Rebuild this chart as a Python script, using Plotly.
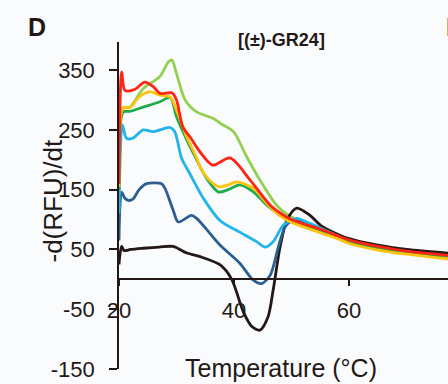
import plotly.graph_objects as go

# ---- data ----
black_t = [20.0, 20.45, 20.9, 22.0, 24.2, 27.0, 29.4, 31.8, 34.1, 37.6, 39.6, 41.6, 43.1, 44.5, 45.9, 46.8, 48.0, 49.2, 50.9, 53.2, 55.1, 57.9, 60.0, 65.0, 70.0, 77.2]
black_v = [25, 55, 48, 50, 52, 54, 55, 44, 38, 24, 0, -54, -79, -85, -63, -18, 54, 99, 119, 107, 90, 76, 68, 57, 50, 44]

dblue_t = [20.0, 20.45, 21.0, 21.6, 22.4, 23.5, 24.8, 27.4, 28.0, 29.4, 30.3, 32.6, 33.5, 35.8, 37.6, 41.0, 43.3, 44.8, 46.3, 47.7, 48.9, 50.3, 52.3, 55.0, 58.0, 60.0, 65.0, 70.0, 77.2]
dblue_v = [65, 146, 136, 132, 134, 150, 160, 160, 152, 116, 96, 107, 102, 77, 57, 27, -1, -7, 7, 54, 88, 99, 96, 84, 72, 64, 53, 45, 38]

lblue_t = [20.0, 20.6, 21.3, 22.4, 24.2, 25.9, 28.9, 29.7, 30.9, 32.3, 34.7, 37.6, 41.0, 43.9, 45.4, 46.8, 48.6, 50.9, 52.6, 55.0, 58.0, 60.0, 65.0, 70.0, 77.2]
lblue_v = [110, 258, 236, 236, 250, 247, 254, 247, 202, 177, 135, 98, 79, 63, 54, 63, 91, 102, 96, 86, 73, 64, 53, 45, 37]

green_t = [20.0, 20.75, 21.9, 24.2, 27.1, 28.9, 30.0, 31.8, 33.5, 34.1, 35.5, 37.3, 39.0, 41.0, 43.4, 45.7, 48.0, 50.0, 52.0, 55.0, 58.0, 60.0, 65.0, 70.0, 77.2]
green_v = [150, 280, 281, 288, 297, 304, 272, 233, 200, 188, 165, 146, 150, 158, 146, 124, 108, 98, 92, 82, 70, 63, 52, 44, 37]

yellow_t = [20.0, 20.75, 21.9, 23.5, 25.4, 27.1, 28.9, 30.0, 31.8, 33.5, 34.1, 35.5, 37.3, 39.0, 40.4, 43.4, 45.7, 48.0, 50.0, 52.0, 55.0, 58.0, 60.0, 65.0, 70.0, 77.2]
yellow_v = [155, 287, 287, 305, 314, 308, 305, 283, 238, 203, 188, 168, 155, 158, 163, 152, 127, 106, 95, 88, 78, 68, 60, 49, 42, 34]

red_t = [20.0, 20.47, 21.04, 22.8, 24.5, 26.0, 27.1, 29.2, 30.0, 31.1, 32.5, 34.1, 36.3, 39.3, 42.8, 46.3, 48.5, 50.0, 52.0, 55.0, 58.0, 60.0, 65.0, 70.0, 77.2]
red_v = [160, 347, 316, 318, 330, 322, 311, 312, 300, 255, 236, 213, 191, 203, 166, 124, 108, 100, 93, 84, 73, 66, 55, 47, 40]

lgreen_t = [20.0, 20.75, 21.9, 24.2, 27.1, 28.6, 29.2, 30.0, 31.5, 33.5, 36.4, 37.6, 39.9, 42.2, 44.5, 47.4, 49.5, 52.0, 55.0, 58.0, 60.0, 65.0, 70.0, 77.2]
lgreen_v = [150, 287, 288, 319, 339, 364, 367, 344, 300, 280, 269, 261, 247, 205, 166, 124, 107, 96, 86, 74, 67, 56, 48, 41]

x_ticks = [20, 40, 60]
y_ticks = [-150, -50, 50, 150, 250, 350]

# ---- figure ----
AX = "#231815"
FONT = "Liberation Sans, Arial, sans-serif"
W, H = 448, 384
ML, MR, MT, MB = 119, 0, 42, 15
PW, PH = W - ML - MR, H - MT - MB
Y0, Y1 = -150, 397
X0, X1 = 20, 77.2

def px(xp):
    return (xp - ML) / PW

def py(yp):
    return (H - MB - yp) / PH

series = [
    (lgreen_t, lgreen_v, "#92d050"),
    (black_t, black_v, "#231815"),
    (dblue_t, dblue_v, "#2c5f91"),
    (lblue_t, lblue_v, "#22b4ea"),
    (green_t, green_v, "#1eab4b"),
    (yellow_t, yellow_v, "#ffc20e"),
    (red_t, red_v, "#ff2414"),
]

fig = go.Figure()
for t, v, c in series:
    fig.add_trace(go.Scatter(x=t, y=v, mode="lines",
                             line=dict(color=c, width=2.8, shape="spline", smoothing=0.8),
                             showlegend=False, hoverinfo="skip"))

fig.update_layout(
    width=W, height=H,
    margin=dict(l=ML, r=MR, t=MT, b=MB, pad=0),
    paper_bgcolor="#fafbfd", plot_bgcolor="#fafbfd",
    font=dict(family=FONT, color=AX, size=22),
    xaxis=dict(range=[X0, X1], tickvals=x_ticks, ticktext=[str(v) for v in x_ticks],
               ticks="outside", ticklen=6, tickwidth=1.5,
               tickcolor=AX, showline=True, linecolor=AX, linewidth=1.5, showgrid=False,
               zeroline=False, anchor="free", position=(0 - Y0) / (Y1 - Y0),
               tickfont=dict(size=22, color=AX), ticklabelstandoff=6),
    yaxis=dict(range=[Y0, Y1], tickvals=y_ticks, ticktext=[str(v) for v in y_ticks],
               ticks="outside", ticklen=8, tickwidth=1.5,
               tickcolor=AX, showline=True, linecolor=AX, linewidth=1.5, showgrid=False,
               zeroline=False, tickfont=dict(size=22, color=AX), ticklabelstandoff=10),
)

fig.add_annotation(x=px(26), y=py(26.5), xref="paper", yref="paper", text="<b>D</b>",
                   showarrow=False, xanchor="left", yanchor="middle",
                   font=dict(size=25, color=AX, family=FONT))
fig.add_annotation(x=px(444), y=py(26.5), xref="paper", yref="paper", text="<b>E</b>",
                   showarrow=False, xanchor="left", yanchor="middle",
                   font=dict(size=25, color=AX, family=FONT))
fig.add_annotation(x=px(281.5), y=py(40), xref="paper", yref="paper", text="<b>[(±)-GR24]</b>",
                   showarrow=False, xanchor="center", yanchor="middle",
                   font=dict(size=18, color=AX, family=FONT))
fig.add_annotation(x=px(52.5), y=py(201), xref="paper", yref="paper", text="-d(RFU)/dt",
                   showarrow=False, xanchor="center", yanchor="middle", textangle=-90,
                   font=dict(size=26, color=AX, family=FONT))
fig.add_annotation(x=px(280.5), y=py(368), xref="paper", yref="paper", text="Temperature (°C)",
                   showarrow=False, xanchor="center", yanchor="middle",
                   font=dict(size=25, color=AX, family=FONT))

fig.write_html("out.html")
